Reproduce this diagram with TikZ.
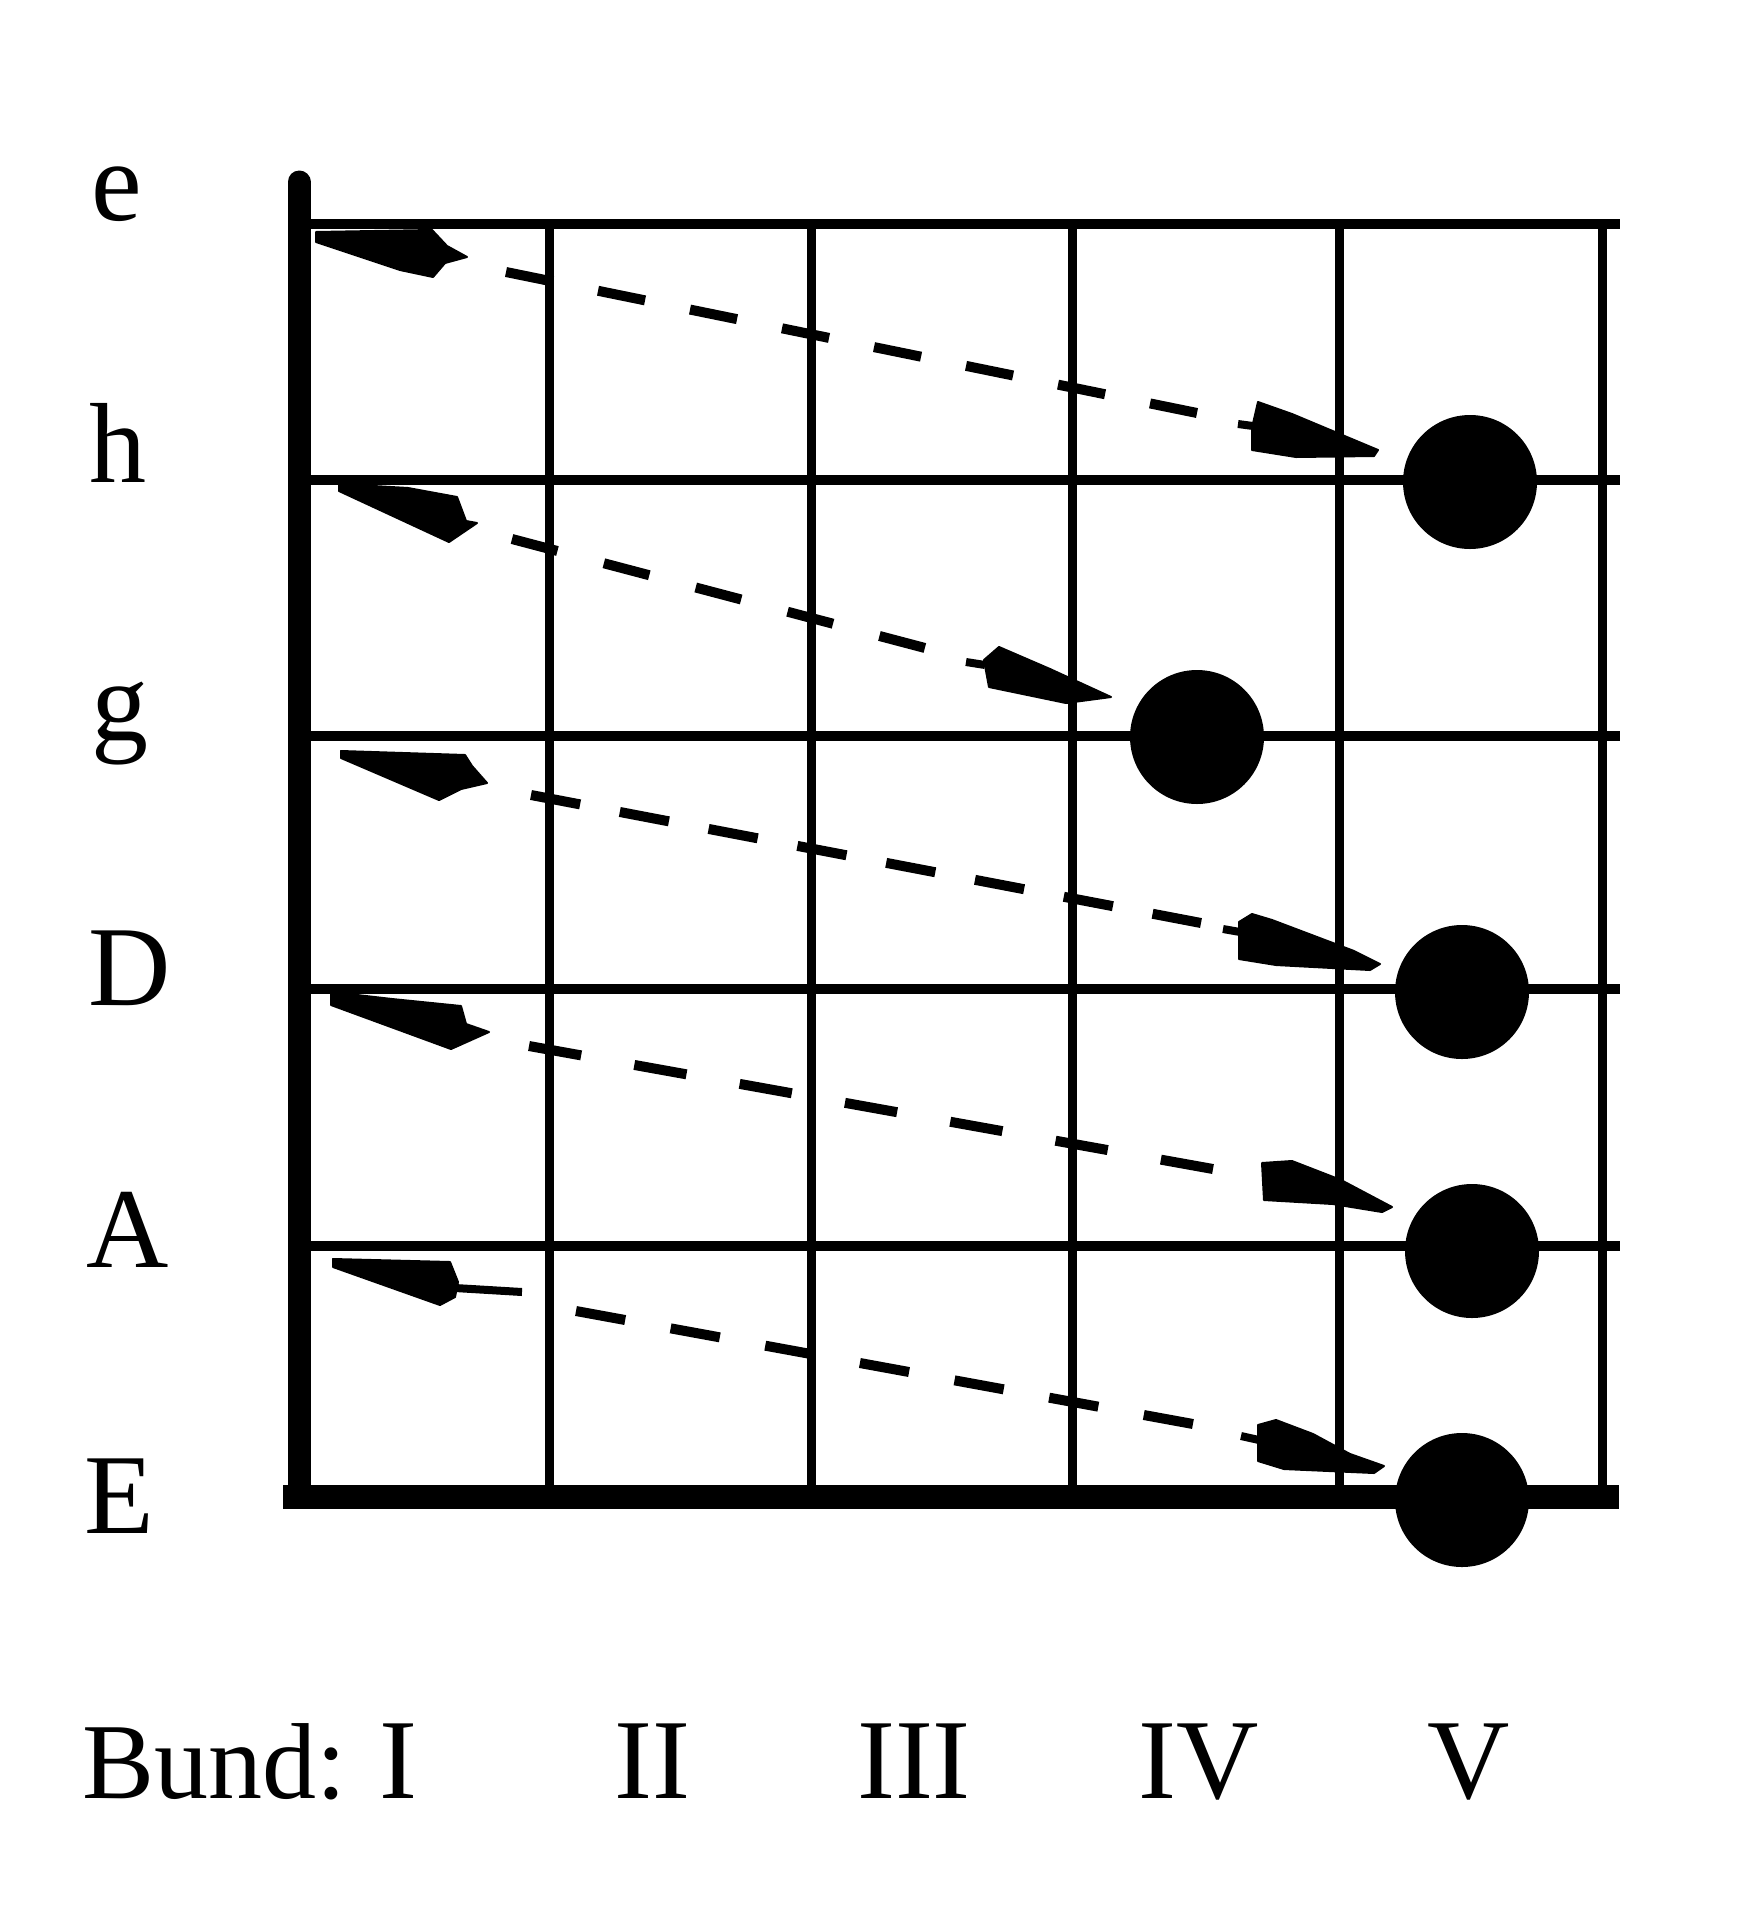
\documentclass[tikz,border=0pt]{standalone}
\usepackage{fontspec}
\setmainfont{Liberation Serif}
\tikzset{
  stringline/.style={line width=10pt},
  fretline/.style={line width=9pt},
  nutline/.style={line width=23pt},
  dot/.style={circle, fill=black, draw=none, minimum size=134pt, inner sep=0pt},
  lbl/.style={inner sep=0pt, anchor=base west, font=\fontsize{114}{120}\selectfont},
  num/.style={inner sep=0pt, anchor=base, font=\fontsize{114}{120}\selectfont},
  dashes/.style={line width=10pt},
  blob/.style={fill=black, draw=black, line width=2pt, line join=round},
  stub/.style={line width=8pt},
}
\begin{document}
\begin{tikzpicture}[x=1pt,y=-1pt]
\useasboundingbox (0,0) rectangle (1761,1920);
\fill[white] (0,0) rectangle (1761,1920);

% strings
\foreach \y in {224,480,736,989,1246}
  \draw[stringline] (299,\y) -- (1620,\y);
% frets
\foreach \x in {549,811,1072,1339,1602}
  \draw[fretline] (\x,220) -- (\x,1497);
% nut and lowest string
\draw[nutline, line cap=round] (299,182) -- (299,1490);
\draw[line width=24pt] (283,1497) -- (1619,1497);

% tails at the nut
\fill[blob] (316,232) -- (432,230) -- (447,246) -- (467,257) -- (445,263) -- (433,277) -- (400,270) -- (316,242) -- cycle;
\fill[blob] (339,484) -- (408,488) -- (457,497) -- (466,521) -- (477,523) -- (449,542) -- (339,491) -- cycle;
\fill[blob] (341,751) -- (465,755) -- (472,766) -- (487,783) -- (461,789) -- (439,800) -- (341,758) -- cycle;
\fill[blob] (331,992) -- (392,999) -- (461,1006) -- (466,1024) -- (489,1032) -- (451,1049) -- (331,1005) -- cycle;
\fill[blob] (333,1259) -- (450,1262) -- (458,1282) -- (455,1297) -- (440,1305) -- (333,1267) -- cycle;
\draw[stub] (455,1288) -- (522,1292);

% dashed connectors
\coordinate (a1) at (506,272);  \coordinate (b1) at (1197,413);
\coordinate (a2) at (512,539);  \coordinate (b2) at (925,648);
\coordinate (a3) at (531,795);  \coordinate (b3) at (1201,923);
\coordinate (a4) at (529,1046); \coordinate (b4) at (1213,1169);
\coordinate (a5) at (576,1311); \coordinate (b5) at (1193,1424);
\draw[dashes, dash pattern=on 48pt off 45.9pt] (a1) -- (b1);
\draw[dashes, dash pattern=on 47pt off 48pt] (a2) -- (b2);
\draw[dashes, dash pattern=on 50pt off 40.4pt] (a3) -- (b3);
\draw[dashes, dash pattern=on 53pt off 54pt] (a4) -- (b4);
\draw[dashes, dash pattern=on 50pt off 46.2pt] (a5) -- (b5);

% arrowheads
\fill[blob] (1252,428) -- (1258,402) -- (1292,414) -- (1378,450) -- (1374,456) -- (1296,457) -- (1252,450) -- cycle;
\draw[stub] (1238,424) -- (1253,426);
\fill[blob] (984,660) -- (999,647) -- (1050,669) -- (1111,697) -- (1066,703) -- (989,687) -- cycle;
\draw[stub] (966,662) -- (985,665);
\fill[blob] (1239,922) -- (1252,914) -- (1272,920) -- (1354,951) -- (1380,964) -- (1370,970) -- (1276,965) -- (1239,959) -- cycle;
\draw[stub] (1223,929) -- (1240,932);
\fill[blob] (1262,1163) -- (1292,1161) -- (1341,1180) -- (1392,1207) -- (1382,1212) -- (1333,1204) -- (1264,1200) -- cycle;
\fill[blob] (1258,1425) -- (1276,1420) -- (1313,1434) -- (1350,1454) -- (1384,1466) -- (1374,1473) -- (1284,1469) -- (1258,1461) -- cycle;
\draw[stub] (1241,1436) -- (1259,1440);

% finger dots
\node[dot] (dh) at (1470,482) {};
\node[dot] (dg) at (1197,737) {};
\node[dot] (dD) at (1462,992) {};
\node[dot] (dA) at (1472,1251) {};
\node[dot] (dE) at (1462,1500) {};

% string names
\node[lbl] (le) at (91,220) {e};
\node[lbl] (lh) at (89,482) {h};
\node[lbl] (lg) at (91,740) {g};
\node[lbl] (lD) at (88,1005) {D};
\node[lbl] (lA) at (86,1267) {A};
\node[lbl] (lE) at (84,1533) {E};

% fret numbers
\node[inner sep=0pt, anchor=base west, font=\fontsize{108}{120}\selectfont] (bund) at (82,1798) {Bund:};
\node[num] (f1) at (398,1798) {I};
\node[num] (f2) at (652,1798) {II};
\node[num] (f3) at (914,1798) {III};
\node[num] (f4) at (1199,1798) {IV};
\node[num] (f5) at (1469,1798) {V};
\end{tikzpicture}
\end{document}
